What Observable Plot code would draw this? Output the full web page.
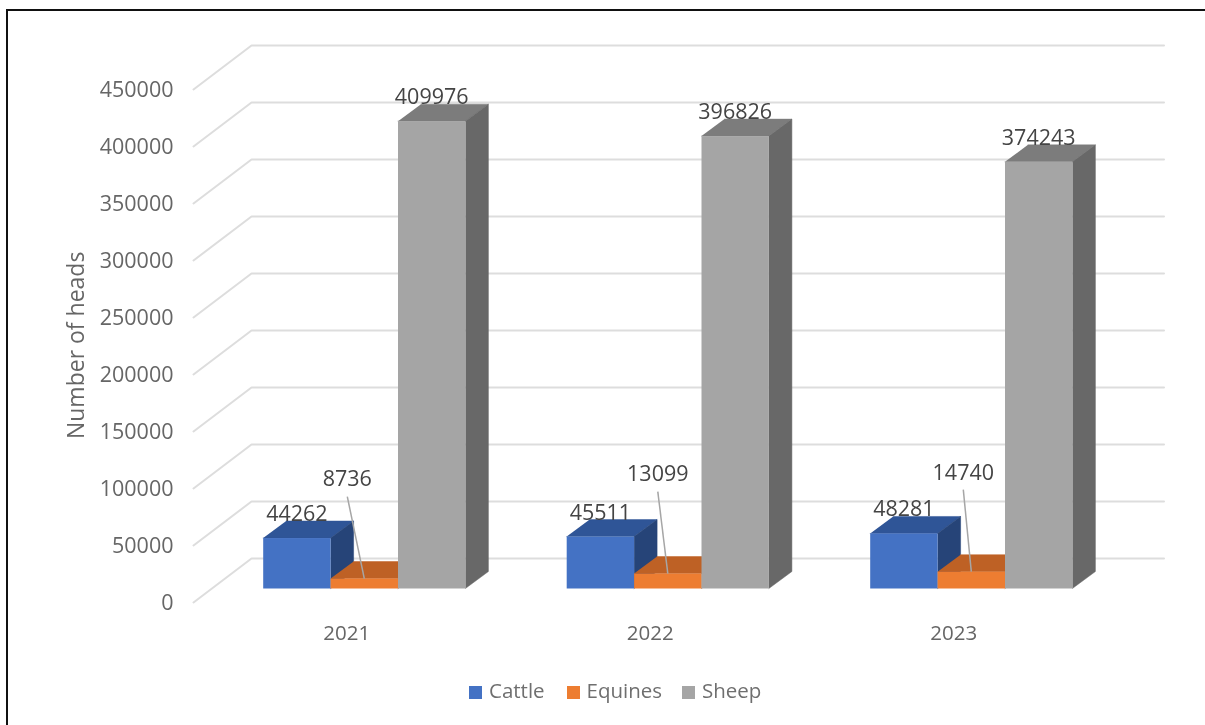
<!DOCTYPE html>
<html>
<head>
<meta charset="utf-8">
<script src="https://cdn.jsdelivr.net/npm/d3@7"></script>
<script src="https://cdn.jsdelivr.net/npm/@observablehq/plot@0.6"></script>
<style>
  html, body { margin: 0; padding: 0; background: #fff; }
  #page { position: relative; width: 1205px; height: 725px; overflow: hidden; font-family: "Open Sans", sans-serif; }
  #frame { position: absolute; left: 6px; top: 9px; width: 1300px; height: 900px; border: 2px solid #111; box-sizing: border-box; pointer-events: none; }
  #chart { position: absolute; left: 0; top: 0; filter: blur(0.4px); }
  #legend { position: absolute; left: 0; top: 675px; width: 1205px; height: 30px; font-size: 20.5px; color: #6f6f6f; filter: blur(0.4px); }
  #legend span.item { position: absolute; top: 0; line-height: 30px; white-space: nowrap; }
  #legend i { display: inline-block; width: 13px; height: 13px; margin-right: 7px; vertical-align: -1px; }
</style>
</head>
<body>
<div id="page">
  <div id="chart"></div>
  <div id="frame"></div>
  <div id="legend"></div>
</div>
<script>
// ---- data ----
const years = ["2021", "2022", "2023"];
const series = ["Cattle", "Equines", "Sheep"];
const cattle = [44262, 45511, 48281];
const equines = [8736, 13099, 14740];
const sheep = [409976, 396826, 374243];
const yTicks = [0, 50000, 100000, 150000, 200000, 250000, 300000, 350000, 400000, 450000];

// ---- styling ----
const frontColors = ["#4472C4", "#ED7D31", "#A5A5A5"];
const topColors = ["#2F5597", "#BE6125", "#7C7C7C"];
const sideColors = ["#264478", "#A85520", "#686868"];
const gridColor = "#DDDDDD";
const axisText = "#666666";
const labelText = "#444444";

// ---- the fake-3D projection, in scale units ----
const pxX = 303.5;          // px per category
const pxY = 57 / 50000;     // px per head
const floorDepthX = 58 / pxX, floorDepthY = 44 / pxY;   // wall to front of floor
const barBase = 30 / pxY;                               // wall to front of bar, downward
const barDepthX = 23 / pxX, barDepthY = 17 / pxY;
const barInset = 69.7 / pxX, barWidth = 67.4 / pxX;
const labelLift = 24 / pxY;
const leaderShift = [-17, -10, -8].map((d) => d / pxX);  // equine label shift per year
const leaderLift = 82 / pxY, equineLabelLift = 99 / pxY;

const values = [cattle, equines, sheep];
const bars = [];
years.forEach((year, i) => series.forEach((name, s) => {
  const v = values[s][i];
  const x1 = i + barInset + s * barWidth;
  bars.push({year, i, s, name, value: v, x1, x2: x1 + barWidth,
    y1: -barBase, y2: v - barBase, xc: x1 + barWidth / 2});
}));

// top and side parallelograms, painted from back-left to front-right
const faces = [];
bars.forEach((b) => {
  const top = `${b.year}-${b.s}-top`, side = `${b.year}-${b.s}-side`;
  const dx = barDepthX, dy = barDepthY;
  [[b.x1, b.y2], [b.x2, b.y2], [b.x2 + dx, b.y2 + dy], [b.x1 + dx, b.y2 + dy]]
    .forEach(([x, y]) => faces.push({id: top, x, y, fill: topColors[b.s]}));
  [[b.x2, b.y1], [b.x2 + dx, b.y1 + dy], [b.x2 + dx, b.y2 + dy], [b.x2, b.y2]]
    .forEach(([x, y]) => faces.push({id: side, x, y, fill: sideColors[b.s]}));
});

// grid: down the left wall edge, then along the back wall
const wallLeft = floorDepthX, wallRight = 3 + 60 / pxX;
const grid = yTicks.flatMap((t) => [
  {t, x: 0, y: t - floorDepthY},
  {t, x: wallLeft, y: t},
  {t, x: wallRight, y: t}
]);

const cattleSheep = bars.filter((b) => b.s !== 1);
const equineBars = bars.filter((b) => b.s === 1);

const plot = Plot.plot({
  width: 1205,
  height: 660,
  marginLeft: 175,
  marginRight: 0,
  marginTop: 0,
  marginBottom: 35,
  style: {background: "transparent", fontFamily: "Open Sans, sans-serif", overflow: "visible"},
  x: {domain: [0, 3], range: [193, 193 + 3 * pxX], axis: null},
  y: {domain: [0, 450000], range: [558, 45], axis: null},
  color: {type: "identity"},
  marks: [
    Plot.line(grid, {x: "x", y: "y", z: "t", stroke: gridColor, strokeWidth: 2}),
    Plot.line(faces, {x: "x", y: "y", z: "id", fill: "fill", stroke: "fill", strokeWidth: 0.5}),
    Plot.rect(bars, {x1: "x1", x2: "x2", y1: "y1", y2: "y2", dx: 0.5, dy: 0.5,
      fill: (d) => frontColors[d.s]}),
    Plot.axisY({ticks: yTicks, anchor: "left", tickSize: 0, tickPadding: 2, dy: 45, label: null,
      tickFormat: (d) => String(d), fontSize: 21.5, fill: axisText, stroke: "none", color: axisText}),
    Plot.axisX({ticks: [0.505, 1.505, 2.505], anchor: "bottom", tickSize: 0, tickPadding: 0, label: null,
      tickFormat: (d) => years[Math.floor(d)], fontSize: 20.5, fill: axisText, color: axisText}),
    Plot.text(["Number of heads"], {
      x: () => -0.385, y: () => 187000, text: (d) => d, rotate: -90, fontSize: 23, fill: axisText
    }),
    Plot.text(cattleSheep, {x: "xc", y: (d) => d.y2 + labelLift, text: (d) => String(d.value),
      fontSize: 21.5, fill: labelText}),
    Plot.link(equineBars, {
      x1: (d) => d.xc + leaderShift[d.i], y1: (d) => d.y2 + leaderLift,
      x2: "xc", y2: "y2", stroke: "#A6A6A6", strokeWidth: 1.5}),
    Plot.text(equineBars, {x: (d) => d.xc + leaderShift[d.i], y: (d) => d.y2 + equineLabelLift,
      text: (d) => String(d.value), fontSize: 21.5, fill: labelText})
  ]
});
document.getElementById("chart").append(plot);

// legend below the SVG
const legend = document.getElementById("legend");
const legendLeft = [469, 566.5, 682];
series.forEach((name, s) => {
  const el = document.createElement("span");
  el.className = "item";
  el.style.left = legendLeft[s] + "px";
  el.innerHTML = `<i style="background:${frontColors[s]}"></i>${name}`;
  legend.append(el);
});
</script>
</body>
</html>
